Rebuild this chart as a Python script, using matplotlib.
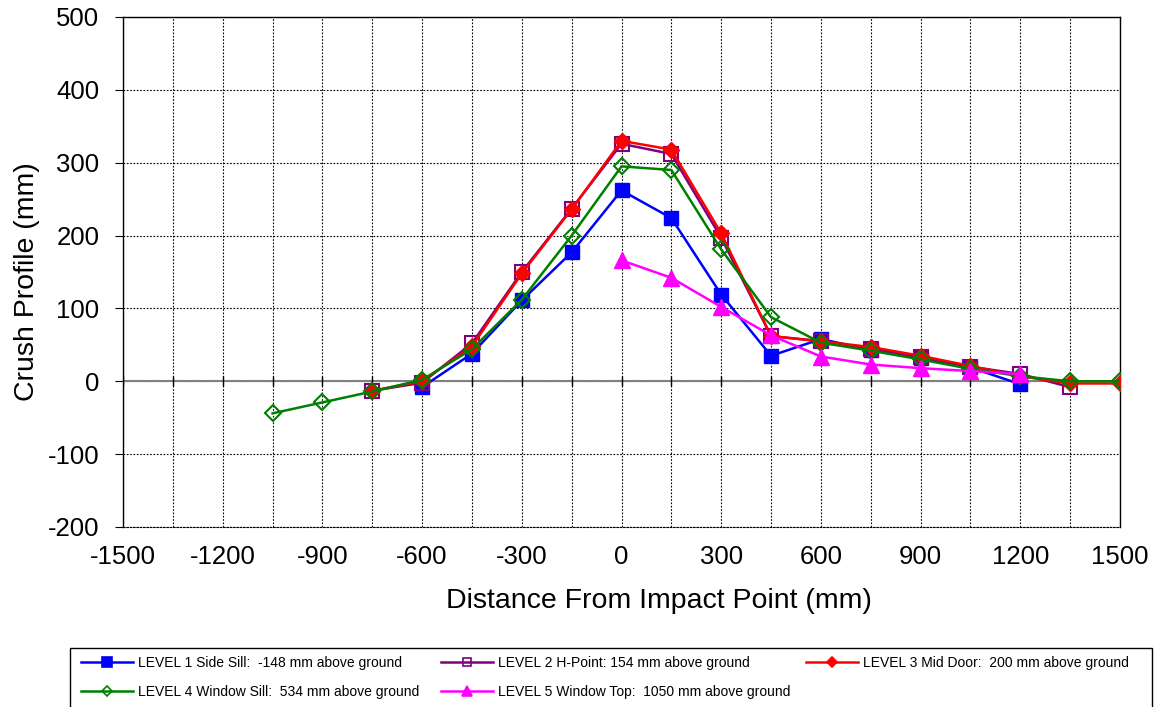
import matplotlib
matplotlib.use("Agg")
import matplotlib.pyplot as plt
from matplotlib.lines import Line2D
from matplotlib.patches import Rectangle

plt.rcParams['font.family'] = ['Liberation Sans', 'DejaVu Sans']
plt.rcParams['axes.unicode_minus'] = False

# Data
x1 = [-600, -450, -300, -150, 0, 150, 300, 450, 600, 750, 900, 1050, 1200]
y1 = [-8, 38, 111, 177, 262, 224, 119, 35, 58, 43, 32, 19, -4]

x2 = [-750, -600, -450, -300, -150, 0, 150, 300, 450, 600, 750, 900, 1050, 1200, 1350]
y2 = [-13, -2, 52, 150, 237, 326, 312, 197, 62, 55, 45, 33, 20, 10, -8]

x3 = [-750, -600, -450, -300, -150, 0, 150, 300, 450, 600, 750, 900, 1050, 1200, 1350, 1500]
y3 = [-13, 0, 48, 148, 236, 330, 318, 203, 62, 55, 47, 35, 21, 7, -3, -3]

x4 = [-1050, -900, -750, -600, -450, -300, -150, 0, 150, 300, 450, 600, 750, 900, 1050, 1200, 1350, 1500]
y4 = [-44, -29, -14, 2, 44, 112, 200, 295, 290, 181, 88, 53, 42, 30, 17, 7, 0, 0]

x5 = [0, 150, 300, 450, 600, 750, 900, 1050, 1200]
y5 = [166, 142, 102, 63, 34, 23, 18, 14, 10]

labels = ["LEVEL 1 Side Sill:  -148 mm above ground",
          "LEVEL 2 H-Point: 154 mm above ground",
          "LEVEL 3 Mid Door:  200 mm above ground",
          "LEVEL 4 Window Sill:  534 mm above ground",
          "LEVEL 5 Window Top:  1050 mm above ground"]

xticks = list(range(-1500, 1501, 300))
xminor = list(range(-1350, 1500, 300))
yticks = list(range(-200, 501, 100))

W, H = 1155, 707
fig = plt.figure(figsize=(W/100, H/100), dpi=100)
ax = fig.add_axes([123/W, 1 - 527/H, (1120-123)/W, (527-17)/H])

ax.set_xlim(-1500, 1500)
ax.set_ylim(-200, 500)
ax.set_xticks(xticks)
ax.set_yticks(yticks)
ax.set_xticks(xminor, minor=True)
dot = (0, (1.5, 1.5))
ax.grid(True, which='both', axis='x', color='black', linestyle=dot, linewidth=0.8)
ax.grid(True, which='major', axis='y', color='black', linestyle=dot, linewidth=0.8)
ax.tick_params(axis='x', which='minor', length=0)
ax.tick_params(axis='x', which='major', length=0, labelsize=18.5, pad=13)
ax.tick_params(axis='y', which='major', direction='out', length=6, labelsize=18.5, pad=11)
ax.set_axisbelow(True)
for s in ax.spines.values():
    s.set_color('black')
    s.set_linewidth(1.0)
ax.spines['bottom'].set_linestyle(dot)
ax.spines['bottom'].set_linewidth(0.8)

ax.axhline(0, color='#808080', linewidth=1.5, zorder=1.5)
zt = xticks + xminor
ax.plot(zt, [0]*len(zt), linestyle='none', marker='|', markersize=7,
        color='black', markeredgewidth=1.0, zorder=1.6)

lw = 1.8
styles = [
    dict(color='#0000FF', marker='s', mfc='#0000FF', mec='#0000FF', ms=10, mew=1.0, lms=7),
    dict(color='#800080', marker='s', mfc='none', mec='#800080', ms=10, mew=1.5, lms=6),
    dict(color='#FF0000', marker='D', mfc='#FF0000', mec='#FF0000', ms=8, mew=1.0, lms=5),
    dict(color='#008000', marker='D', mfc='none', mec='#008000', ms=8, mew=1.5, lms=5),
    dict(color='#FF00FF', marker='^', mfc='#FF00FF', mec='#FF00FF', ms=11, mew=1.0, lms=7),
]
series = [(x1, y1), (x2, y2), (x3, y3), (x4, y4), (x5, y5)]
for (xs, ys), st, lab in zip(series, styles, labels):
    ax.plot(xs, ys, color=st['color'], lw=lw, marker=st['marker'], markersize=st['ms'],
            markerfacecolor=st['mfc'], markeredgecolor=st['mec'], markeredgewidth=st['mew'],
            label=lab, zorder=3)

ax.set_xlabel("Distance From Impact Point (mm)", fontsize=20.5, va='center')
ax.xaxis.set_label_coords((659-123)/997, (527-601)/510)
ax.set_ylabel("Crush Profile (mm)", fontsize=20.5, va='center')
ax.yaxis.set_label_coords((27-123)/997, (527-281.5)/510)

# Legend frame
fig.patches.append(Rectangle((70/W, -0.05), (1152-70)/W, 0.05 + (707-648)/H,
                             transform=fig.transFigure, fill=False,
                             edgecolor='black', linewidth=1.0))
# Legend entries: (handle start x, center y)
pos = [(81, 663), (441, 663), (806, 663), (81, 692), (441, 692)]
for i, (st, lab) in enumerate(zip(styles, labels)):
    h = Line2D([], [], color=st['color'], lw=lw, marker=st['marker'], markersize=st['lms'],
               markerfacecolor=st['mfc'], markeredgecolor=st['mec'], markeredgewidth=1.2)
    px, py = pos[i]
    lg = fig.legend([h], [lab], loc='center left', bbox_to_anchor=(px/W, 1 - py/H),
                    frameon=False, fontsize=10, handlelength=3.75, handletextpad=0.35,
                    borderpad=0, borderaxespad=0)

fig.savefig("out.png", dpi=100)
